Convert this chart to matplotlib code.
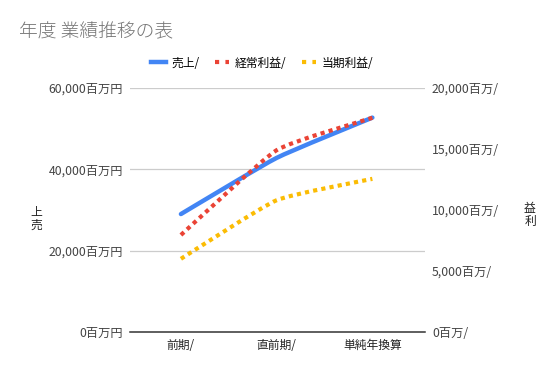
import numpy as np
import matplotlib
matplotlib.use("Agg")
import matplotlib.pyplot as plt
from matplotlib.path import Path
from matplotlib.patches import PathPatch
from matplotlib.lines import Line2D

plt.rcParams['font.family'] = ['Noto Sans CJK JP', 'DejaVu Sans']

# data
periods = ["前期/", "直前期/", "単純年換算"]
sales = [29000, 42800, 52700]          # 売上 (left axis)
ordinary_profit = [7950, 14900, 17550]  # 経常利益 (right axis)
net_profit = [6000, 10800, 12550]       # 当期利益 (right axis)

left_ticks = [0, 20000, 40000, 60000]
right_ticks = [0, 5000, 10000, 15000, 20000]

blue = "#4285F4"
red = "#EA4335"
yellow = "#FBBC04"


def smooth_path(xs, ys, k=0.08):
    # cubic bezier through the points, only slightly rounded at the joins
    xs = np.asarray(xs, float)
    ys = np.asarray(ys, float)
    verts = [(xs[0], ys[0])]
    codes = [Path.MOVETO]
    n = len(xs)
    for i in range(n - 1):
        p0 = i - 1 if i > 0 else i
        p3 = i + 2 if i + 2 < n else i + 1
        c1 = (xs[i] + k * (xs[i + 1] - xs[p0]), ys[i] + k * (ys[i + 1] - ys[p0]))
        c2 = (xs[i + 1] - k * (xs[p3] - xs[i]), ys[i + 1] - k * (ys[p3] - ys[i]))
        verts += [c1, c2, (xs[i + 1], ys[i + 1])]
        codes += [Path.CURVE4] * 3
    return Path(verts, codes)


fig = plt.figure(figsize=(5.47, 3.71), dpi=100)
ax = fig.add_axes([0.238, 0.105, 0.539, 0.658])
ax2 = ax.twinx()

x = np.arange(len(periods))

ax.set_xlim(-0.53, 2.55)
ax.set_ylim(0, 60000)
ax2.set_ylim(0, 20000)

for t in left_ticks[1:]:
    ax.axhline(t, color="#cccccc", lw=0.9, zorder=0)
ax.axhline(0, color="#333333", lw=1.1, zorder=1, clip_on=False)

ax.add_patch(PathPatch(smooth_path(x, sales), fill=False, edgecolor=blue,
                       lw=3.2, capstyle='round', joinstyle='round', zorder=3))
ax2.add_patch(PathPatch(smooth_path(x, ordinary_profit), fill=False, edgecolor=red,
                        lw=3.0, linestyle=(0, (1, 1)), capstyle='butt', zorder=3))
ax2.add_patch(PathPatch(smooth_path(x, net_profit), fill=False, edgecolor=yellow,
                        lw=3.0, linestyle=(0, (1, 1)), capstyle='butt', zorder=3))

ax.set_xticks(x)
ax.set_xticklabels(periods, fontsize=8.5, color="#222222")
ax.set_yticks(left_ticks)
ax.set_yticklabels([f"{v:,}百万円" for v in left_ticks], fontsize=8.8, color="#444444")
ax2.set_yticks(right_ticks)
ax2.set_yticklabels([f"{v:,}百万/" for v in right_ticks], fontsize=8.8, color="#444444")

for a in (ax, ax2):
    a.tick_params(length=0, pad=5)
    for s in a.spines.values():
        s.set_visible(False)
ax.tick_params(axis='x', pad=5)

# axis titles: upright characters stacked
fig.text(0.066, 0.41, "上\n売", fontsize=8.5, color="#222222", ha="center", va="center",
         linespacing=1.0)
fig.text(0.969, 0.42, "益\n利", fontsize=8.5, color="#222222", ha="center", va="center",
         linespacing=1.0)

fig.text(0.035, 0.9, "年度 業績推移の表", fontsize=13.5, color="#757575",
         fontweight="light")

handles = [
    Line2D([], [], color=blue, lw=3.2),
    Line2D([], [], color=red, lw=3.0, linestyle=(0, (1, 1.5))),
    Line2D([], [], color=yellow, lw=3.0, linestyle=(0, (1, 1.5))),
]
fig.legend(handles, ["売上/", "経常利益/", "当期利益/"], loc="center",
           bbox_to_anchor=(0.48, 0.83), ncol=3, frameon=False, fontsize=8.5,
           handlelength=1.2, handletextpad=0.5, columnspacing=1.3)

fig.savefig("out.png", dpi=100)
